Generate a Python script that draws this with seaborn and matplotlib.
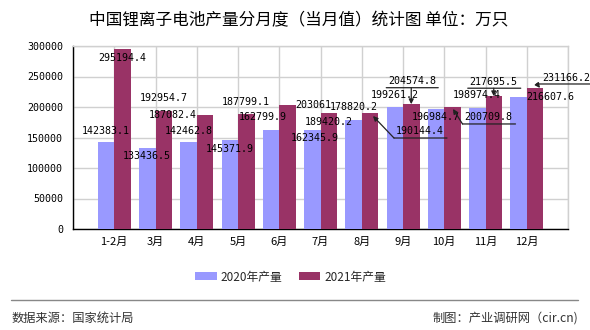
import numpy as np
import pandas as pd
import matplotlib
matplotlib.use("Agg")
import matplotlib.pyplot as plt
import seaborn as sns
from matplotlib.patches import Patch
from matplotlib.lines import Line2D
from matplotlib.transforms import offset_copy

# ---------------- data ----------------
months = ["1-2月", "3月", "4月", "5月", "6月", "7月", "8月", "9月", "10月", "11月", "12月"]
series_names = ["2020年产量", "2021年产量"]
values_2020 = [142383.1, 133436.5, 142462.8, 145371.9, 162799.9, 162345.9,
               178820.2, 199261.2, 196984.7, 198974.4, 216607.6]
values_2021 = [295194.4, 192954.7, 187082.4, 187799.1, 203061, 189420.2,
               190144.4, 204574.8, 200709.8, 217695.5, 231166.2]
label_2020 = ["142383.1", "133436.5", "142462.8", "145371.9", "162799.9", "162345.9",
              "178820.2", "199261.2", "196984.7", "198974.4", "216607.6"]
label_2021 = ["295194.4", "192954.7", "187082.4", "187799.1", "203061", "189420.2",
              "190144.4", "204574.8", "200709.8", "217695.5", "231166.2"]
y_ticks = [0, 50000, 100000, 150000, 200000, 250000, 300000]
title = "中国锂离子电池产量分月度（当月值）统计图 单位：万只"
source_text = "数据来源：国家统计局"
credit_text = "制图：产业调研网（cir.cn)"
colors = ["#9999FF", "#993366"]

df = pd.DataFrame({
    "月份": months * 2,
    "产量": values_2020 + values_2021,
    "系列": [series_names[0]] * len(months) + [series_names[1]] * len(months),
})

# ---------------- style ----------------
sns.set_theme(style="white")
plt.rcParams["font.family"] = ["Noto Sans CJK SC", "DejaVu Sans"]

W, H = 590, 330
fig = plt.figure(figsize=(W / 100, H / 100), dpi=100)
ax = fig.add_axes([73 / W, 1 - 229 / H, (568 - 73) / W, (229 - 46) / H])

sns.barplot(data=df, x="月份", y="产量", hue="系列", palette=colors,
            saturation=1, width=0.8, linewidth=0, legend=False, ax=ax,
            zorder=3)

ax.set_xlim(-1, len(months))
ax.set_ylim(0, 300000)
ax.set_xticks(np.arange(-1, len(months) + 1))
ax.set_xticklabels([""] + months + [""])
ax.set_yticks(y_ticks)
ax.set_yticklabels([str(v) for v in y_ticks], family=["DejaVu Sans Mono"], fontsize=7.2)
ax.set_xlabel("")
ax.set_ylabel("")
ax.grid(True, color="#d0d0d0", lw=1)
ax.set_axisbelow(True)
for s in ["top", "right"]:
    ax.spines[s].set_color("#d0d0d0")
    ax.spines[s].set_linewidth(1)
for s in ["left", "bottom"]:
    ax.spines[s].set_color("black")
    ax.spines[s].set_linewidth(1)
ax.tick_params(axis="y", direction="out", length=5, width=1, pad=2, colors="black")
ax.tick_params(axis="x", direction="out", length=3, width=1, pad=3, labelsize=8, colors="black")

# ---------------- data labels ----------------
# per-label layout: (dx, dy, ha, leader) in pixels relative to bar top
spec_2020 = [(0, 11, "center", None), (0, -8, "center", None), (0, 11, "center", None),
             (0, -9, "center", None), (-8, 13, "center", None), (3, -8, "center", None),
             (0, 13, "center", None), (0, 12.5, "center", None), (0, -8, "center", None),
             (0, 12.5, "center", None), (8, 0, "left", None)]
spec_2021 = [(0, -9, "center", None), (0, 13, "center", None), (-8, 0, "right", None),
             (0, 12, "center", None), (8, 0, "left", None), (0, -9, "center", None),
             (50, -18, "center", (-25, 24, 77, (24, -25), (3, -3))),
             (1, 23.5, "center", (16.5, -25, 27, (0, 16.5), (0, 0))),
             (36, -10, "center", (-17.4, 10, 63, (10, -17.4), (0.5, -2.4))),
             (0, 14.5, "center", (8, -26, 27, (0, 8), (0, 0))),
             (31.5, 9.7, "center", (4, 2, 60, (2, 4), (5, 0)))]

lab_font = dict(family=["DejaVu Sans Mono"], fontsize=7.2, color="black")
for cont, labels, spec in zip(ax.containers, [label_2020, label_2021], [spec_2020, spec_2021]):
    for bar, lab, (dx, dy, ha, leader) in zip(cont.patches, labels, spec):
        x = bar.get_x() + bar.get_width() / 2
        v = bar.get_height()
        ax.annotate(lab, xy=(x, v), xytext=(dx, dy), textcoords="offset pixels",
                    ha=ha, va="center", annotation_clip=False, zorder=6, **lab_font)
        if leader is not None:
            ly, lx1, lx2, start, end = leader
            t1 = offset_copy(ax.transData, fig=fig, x=lx1, y=ly, units="dots")
            t2 = offset_copy(ax.transData, fig=fig, x=lx2, y=ly, units="dots")
            ax.annotate("", xy=(x, v), xycoords=t2, xytext=(x, v), textcoords=t1,
                        arrowprops=dict(arrowstyle="-", lw=0.9, color="#222222",
                                        shrinkA=0, shrinkB=0),
                        annotation_clip=False, zorder=6)
            te = offset_copy(ax.transData, fig=fig, x=end[0], y=end[1], units="dots")
            ts = offset_copy(ax.transData, fig=fig, x=start[0], y=start[1], units="dots")
            ax.annotate("", xy=(x, v), xycoords=te, xytext=(x, v), textcoords=ts,
                        arrowprops=dict(arrowstyle="-|>", lw=0.9, color="#222222",
                                        shrinkA=0, shrinkB=0, mutation_scale=7),
                        annotation_clip=False, zorder=6)

# ---------------- title, legend, footer ----------------
fig.text(299 / W, 1 - 21 / H, title, ha="center", va="center", fontsize=12, color="black")

handles = [Patch(facecolor=c, edgecolor="none", label=n) for c, n in zip(colors, series_names)]
fig.legend(handles=handles, loc="center", bbox_to_anchor=(290.5 / W, 1 - 277 / H),
           ncol=2, frameon=False, fontsize=8.5, handlelength=1.86, handleheight=0.68,
           handletextpad=0.34, columnspacing=1.36, borderpad=0, borderaxespad=0)

fig.add_artist(Line2D([11 / W, 578 / W], [1 - 299.5 / H] * 2, color="#888888", lw=1,
                      transform=fig.transFigure))
fig.text(11.5 / W, 1 - 318 / H, source_text, ha="left", va="center", fontsize=8.8, color="#333333")
fig.text(578 / W, 1 - 318 / H, credit_text, ha="right", va="center", fontsize=8.8, color="#333333")

fig.savefig("out.png", dpi=100, facecolor="white")
